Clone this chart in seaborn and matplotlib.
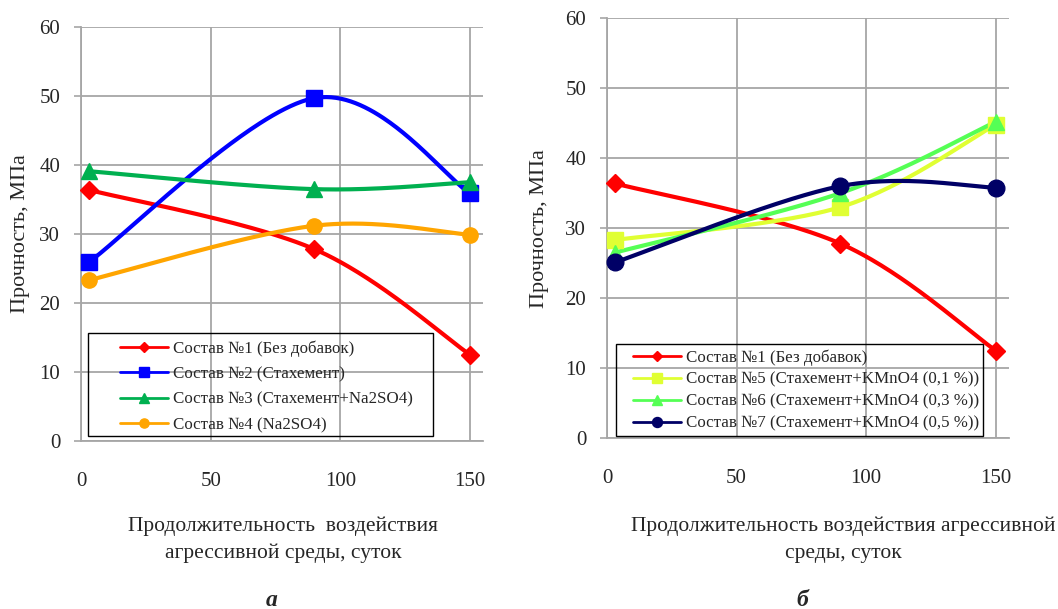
import numpy as np
import pandas as pd
import matplotlib
matplotlib.use('Agg')
import matplotlib.pyplot as plt
from matplotlib.lines import Line2D
from matplotlib.patches import Rectangle
import seaborn as sns

days = [3, 90, 150]

# panel a
s1 = [36.4, 27.8, 12.5]
s2 = [25.9, 49.7, 35.9]
s3 = [39.1, 36.5, 37.5]
s4 = [23.3, 31.2, 29.9]
# panel b
s5 = [28.3, 33.0, 44.8]
s6 = [26.5, 35.0, 45.2]
s7 = [25.1, 36.0, 35.8]

names_a = ['Состав №1 (Без добавок)', 'Состав №2 (Стахемент)',
           'Состав №3 (Стахемент+Na2SO4)', 'Состав №4 (Na2SO4)']
names_b = ['Состав №1 (Без добавок)', 'Состав №5 (Стахемент+KMnO4 (0,1 %))',
           'Состав №6 (Стахемент+KMnO4 (0,3 %))', 'Состав №7 (Стахемент+KMnO4 (0,5 %))']

xlabel_a = 'Продолжительность  воздействия\nагрессивной среды, суток'
xlabel_b = 'Продолжительность воздействия агрессивной\nсреды, суток'
ylabel = 'Прочность, МПа'


def smooth(x, y, n=80):
    # excel-like smoothed line (catmull-rom bezier)
    pts = np.column_stack([x, y]).astype(float)
    P = np.vstack([pts[0], pts, pts[-1]])
    t = np.linspace(0, 1, n)[:, None]
    out = []
    for i in range(1, len(P) - 2):
        p0, p1, p2, p3 = P[i - 1], P[i], P[i + 1], P[i + 2]
        c1 = p1 + (p2 - p0) / 6
        c2 = p2 - (p3 - p1) / 6
        out.append((1 - t)**3 * p1 + 3 * (1 - t)**2 * t * c1
                   + 3 * (1 - t) * t**2 * c2 + t**3 * p2)
    return np.vstack(out)


sns.set_style('white')
plt.rcParams['font.family'] = ['Liberation Serif', 'DejaVu Serif']

fig = plt.figure(figsize=(10.58, 6.09), dpi=100)
ax_a = fig.add_axes([81/1058, 1-441/609, 402/1058, 414/609])
ax_b = fig.add_axes([607/1058, 1-438/609, 401.7/1058, 419.7/609])


def draw(ax, series, names, styles, anchor, box, spacing):
    handles = []
    for vals, name, (col, mk, ms) in zip(series, names, styles):
        c = smooth(days, vals)
        sns.lineplot(x=c[:, 0], y=c[:, 1], color=col, lw=3, sort=False,
                     estimator=None, ax=ax, zorder=3)
        ax.plot(days, vals, ls='none', marker=mk, ms=ms, color=col,
                mec=col, zorder=4, clip_on=False)
        handles.append(Line2D([], [], color=col, lw=2, marker=mk,
                              ms=ms * 0.6, label=name))
    ax.set_xlim(0, 155)
    ax.set_ylim(0, 60)
    ax.set_xticks([0, 50, 100, 150])
    ax.set_yticks(range(0, 61, 10))
    ax.grid(True, color='#a6a6a6', lw=1.3)
    for s in ['top', 'right']:
        ax.spines[s].set_visible(False)
    for s in ['left', 'bottom']:
        ax.spines[s].set_color('#a6a6a6')
        ax.spines[s].set_linewidth(1.3)
    ax.tick_params(axis='y', length=5, width=1.2, color='#a6a6a6', pad=10,
                   labelsize=15, left=True)
    ax.tick_params(axis='x', length=0, pad=22, labelsize=15)
    ax.set_ylabel(ylabel, fontsize=16)
    ax.legend(handles=handles, loc='upper left', bbox_to_anchor=anchor,
              fontsize=12.2, frameon=False, handlelength=2.85,
              handletextpad=0.3, borderpad=0, labelspacing=spacing,
              borderaxespad=0).set_zorder(6)
    ax.add_patch(Rectangle(box[:2], box[2], box[3], transform=ax.transAxes,
                           fill=False, ec='black', lw=1.0, zorder=5))


draw(ax_a, [s1, s2, s3, s4], names_a,
     [('#ff0000', 'D', 9), ('#0000ff', 's', 11),
      ('#00b050', '^', 11), ('#ffa500', 'o', 11)],
     (0.097, 0.243), (0.0174, 0.012, 0.858, 0.249), 0.56)
draw(ax_b, [s1, s5, s6, s7], names_b,
     [('#ff0000', 'D', 9), ('#e0ff33', 's', 11),
      ('#55ff55', '^', 11), ('#000066', 'o', 12)],
     (0.0647, 0.211), (0.0224, 0.005, 0.9136, 0.219), 0.35)

ax_a.yaxis.set_label_coords(-0.127, 0.5)
ax_b.yaxis.set_label_coords(-0.144, 0.5)

fig.text(283/1058, 1-540/609, xlabel_a, ha='center', va='center',
         fontsize=15.5, linespacing=1.55)
fig.text(843/1058, 1-540/609, xlabel_b, ha='center', va='center',
         fontsize=15.5, linespacing=1.55)
fig.text(272/1058, 1-600/609, 'а', ha='center', va='center',
         fontsize=17, fontweight='bold', fontstyle='italic')
fig.text(802/1058, 1-600/609, 'б', ha='center', va='center',
         fontsize=17, fontweight='bold', fontstyle='italic')

fig.savefig('out.png', dpi=100)
